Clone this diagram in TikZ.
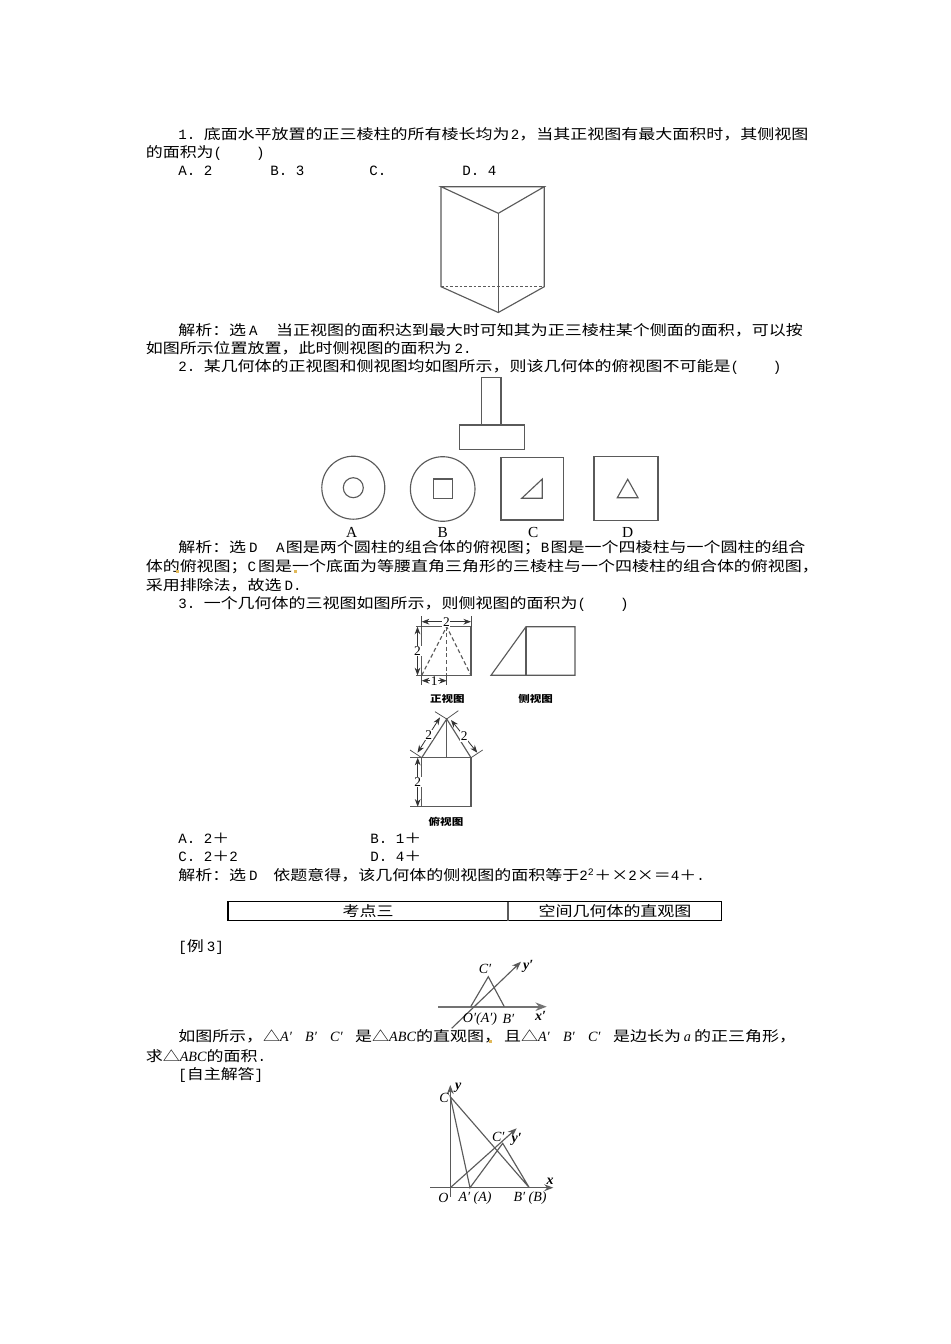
\documentclass[tikz,border=0pt]{standalone}
\usepackage{fontspec}
\usepackage{amsmath}
\setmainfont{Liberation Mono}
\newfontfamily\cjkfont[FakeStretch=1.2]{Noto Sans CJK SC}
\newfontfamily\figfont{Liberation Serif}
\newcommand{\zh}[1]{{\cjkfont #1}}
\newcommand{\ag}{\kern2.25pt}
\newcommand{\primebox}[1]{\makebox[18.75pt][l]{\figfont\itshape #1}}
\usetikzlibrary{arrows.meta, positioning}
\definecolor{edgegray}{RGB}{90, 90, 90}
\definecolor{speckorange}{RGB}{225, 185, 90}
\tikzset{
  txtline/.style={anchor=west, inner sep=0pt, font=\fontsize{10.62}{12}\selectfont},
  midline/.style={anchor=center, inner sep=0pt, font=\fontsize{10.62}{12}\selectfont},
  geoline/.style={draw=edgegray, line width=0.85pt},
  dimline/.style={draw=black!70, line width=0.55pt},
  dimarrow/.style={draw=black!80, line width=0.6pt, Stealth-Stealth},
  dimlabel/.style={fill=white, inner sep=0.6pt, font=\figfont\fontsize{10}{10}\selectfont},
  viewlabel/.style={inner sep=0pt, font=\cjkfont\bfseries\fontsize{7.2}{9}\selectfont},
  choicelabel/.style={inner sep=0pt, font=\figfont\fontsize{11.5}{12}\selectfont},
  axislabel/.style={inner sep=0pt, font=\figfont\itshape\fontsize{10.5}{10}\selectfont},
  axisbold/.style={inner sep=0pt, font=\figfont\bfseries\itshape\fontsize{10.5}{10}\selectfont},
  speck/.style={fill=speckorange}
}
\begin{document}
\begin{tikzpicture}[x=0.75pt, y=-0.75pt]
  \path[use as bounding box, fill=white] (0,0) rectangle (950,1344);

  % Question 1
  \node[txtline] (qonea) at (178, 134.5) {1.\ \zh{底面水平放置的正三棱柱的所有棱长均为}\kern1pt 2\zh{，当其正视图有最大面积时，其侧视图}};
  \node[txtline] (qoneb) at (145.5, 152.5) {\zh{的面积为}(\ \ \ \ )};
  \node[txtline] (opta) at (178, 171) {A.\ 2};
  \node[txtline] (optb) at (270, 171) {B.\ 3};
  \node[txtline] (optc) at (369, 171) {C.};
  \node[txtline] (optd) at (462, 171) {D.\ 4};

  % Prism
  \coordinate (ptl) at (441, 186.7);
  \coordinate (ptr) at (544.3, 186.7);
  \coordinate (ptm) at (498.3, 213.3);
  \coordinate (pbl) at (441, 286.7);
  \coordinate (pbr) at (544.3, 286.7);
  \coordinate (pbm) at (498.3, 312.5);
  \draw[geoline] (ptl) -- (ptr) -- (ptm) -- cycle;
  \draw[geoline] (ptl) -- (pbl) -- (pbm) -- (pbr) -- (ptr);
  \draw[geoline] (ptm) -- (pbm);
  \draw[geoline, dash pattern=on 2pt off 1.5pt, line width=0.5pt] (pbl) -- (pbr);

  \node[txtline] (ansonea) at (178, 330.5) {\zh{解析：选}\ag A\ \ \kern1pt\zh{当正视图的面积达到最大时可知其为正三棱柱某个侧面的面积，可以按}};
  \node[txtline] (ansoneb) at (145.5, 348) {\zh{如图所示位置放置，此时侧视图的面积为}\ag 2.};

  % Question 2
  \node[txtline] (qtwo) at (178, 366.5) {2.\ \zh{某几何体的正视图和侧视图均如图所示，则该几何体的俯视图不可能是}(\ \ \ \ )};
  \draw[geoline] (481.7, 425) -- (481.7, 377.3) -- (501, 377.3) -- (501, 425);
  \draw[geoline] (459.3, 425) rectangle (524.3, 449.3);

  \draw[geoline] (353.3, 487.7) circle [radius=31.5];
  \draw[geoline] (353.3, 487.7) circle [radius=10];
  \draw[geoline] (442.7, 489) circle [radius=32.3];
  \draw[geoline] (433.3, 479) rectangle (452.7, 498.7);
  \draw[geoline] (501, 457.3) rectangle (563.7, 520);
  \draw[geoline] (521.7, 498.3) -- (542.3, 479) -- (542.3, 498.3) -- cycle;
  \draw[geoline] (594, 456.7) rectangle (658, 520.3);
  \draw[geoline] (617.3, 497.7) -- (627.7, 479.3) -- (638, 497.7) -- cycle;

  \node[choicelabel] (lbla) at (351.7, 532) {A};
  \node[choicelabel] (lblb) at (442.7, 532) {B};
  \node[choicelabel] (lblc) at (533.3, 532) {C};
  \node[choicelabel] (lbld) at (627.7, 532) {D};

  \node[txtline] (anstwoa) at (178, 548) {\zh{解析：选}\ag D\ \ \kern1pt A\kern1pt\zh{图是两个圆柱的组合体的俯视图；}B\kern1pt\zh{图是一个四棱柱与一个圆柱的组合}};
  \node[txtline] (anstwob) at (145.5, 566.7) {\zh{体的俯视图；}C\kern1.5pt\zh{图是一个底面为等腰直角三角形的三棱柱与一个四棱柱的组合体的俯视图，}};
  \node[txtline] (anstwoc) at (145.5, 585.5) {\zh{采用排除法，故选}\ag D.};
  \fill[speck] (175.5, 569.5) rectangle (178.5, 572.5);
  \fill[speck] (294, 569.5) rectangle (297, 572.5);

  % Question 3
  \node[txtline] (qthree) at (178, 604) {3.\ \zh{一个几何体的三视图如图所示，则侧视图的面积为}(\ \ \ \ )};

  % Front view
  \coordinate (fa) at (421.7, 626.7);
  \coordinate (fb) at (471, 626.7);
  \coordinate (fc) at (471, 675.3);
  \coordinate (fd) at (421.7, 675.3);
  \coordinate (fe) at (446.7, 626.7);
  \coordinate (ff) at (446.7, 675.3);
  \draw[geoline] (416, 626.7) -- (fb) -- (fc) -- (416, 675.3);
  \draw[geoline] (fa) -- (fd);
  \draw[dimline] (fa) -- (421.7, 616);
  \draw[dimline] (fb) -- (471, 616);
  \draw[dimline] (fd) -- (421.7, 685);
  \draw[dimline] (ff) -- (446.7, 685);
  \draw[geoline, dash pattern=on 3pt off 2pt] (fd) -- (fe) -- (fc);
  \draw[geoline, dash pattern=on 3pt off 2pt] (fe) -- (ff);
  \draw[dimarrow] (421.7, 621.7) -- node[dimlabel] (fdimtop) {2} (471, 621.7);
  \draw[dimarrow] (417.5, 626.7) -- node[dimlabel] (fdimleft) {2} (417.5, 675.3);
  \draw[dimarrow] (421.7, 680.7) -- node[dimlabel] (fdimbot) {1} (446.7, 680.7);
  \node[viewlabel] (frontlbl) at (447.3, 699) {正视图};

  % Side view
  \draw[geoline] (491, 675.3) -- (526, 626.7) -- (575, 626.7) -- (575, 675.3) -- cycle;
  \draw[geoline] (526, 626.7) -- (526, 675.3);
  \node[viewlabel] (sidelbl) at (535.7, 699) {侧视图};

  % Top view
  \coordinate (ta) at (421.7, 757.7);
  \coordinate (tb) at (471, 757.7);
  \coordinate (tc) at (471, 806.7);
  \coordinate (td) at (421.7, 806.7);
  \coordinate (tp) at (446.7, 719);
  \draw[geoline] (410, 757.7) -- (tb) -- (tc) -- (410, 806.7);
  \draw[geoline, line width=1.1pt] (ta) -- (td);
  \draw[geoline] (ta) -- (tp) -- (tb);
  \draw[geoline] (tp) -- (446.7, 757.7);
  \draw[dimline] (ta) -- (410, 750);
  \draw[dimline] (tp) -- (435, 711.7);
  \draw[dimline] (tp) -- (458.3, 710.7);
  \draw[dimline] (tb) -- (482.7, 750);
  \draw[dimarrow] (417.5, 752.7) -- node[dimlabel] (tdimleft) {2} (440, 717.3);
  \draw[dimarrow] (451, 720) -- node[dimlabel] (tdimright) {2} (477.3, 752.7);
  \draw[dimarrow] (417.7, 757.7) -- node[dimlabel] (tdimside) {2} (417.7, 806.7);
  \node[viewlabel] (toplbl) at (446, 821.7) {俯视图};

  \node[txtline] (opta2) at (178, 838) {A.\ 2\zh{＋}};
  \node[txtline] (optb2) at (370, 838) {B.\ 1\zh{＋}};
  \node[txtline] (optc2) at (178, 856.7) {C.\ 2\zh{＋}2};
  \node[txtline] (optd2) at (370, 856.7) {D.\ 4\zh{＋}};
  \node[txtline] (ansthree) at (178, 875.5) {\zh{解析：选}\ag D\ \ \kern-1pt\zh{依题意得，该几何体的侧视图的面积等于}2\textsuperscript{2}\zh{＋×}2\zh{×＝}4\zh{＋}.};

  % Section table
  \draw[line width=0.8pt] (228, 901.7) rectangle (721.5, 920.7);
  \draw[geoline] (508, 901.7) -- (508, 920.7);
  \node[midline] (tblleft) at (368, 911) {\zh{考点三}};
  \node[midline] (tblright) at (615, 911) {\zh{空间几何体的直观图}};

  \node[txtline] (exlbl) at (178, 946.7) {[\zh{例}\ag 3]};

  % Oblique figure
  \coordinate (so) at (470.7, 1006.7);
  \coordinate (sb) at (504.3, 1006.7);
  \coordinate (sc) at (488.3, 976.7);
  \draw[draw=black!55, line width=1.2pt, -Stealth] (438.3, 1006.7) -- (546.7, 1006.7);
  \draw[geoline, -Stealth] (451.7, 1028.3) -- (521, 961.7);
  \draw[geoline] (so) -- (sc) -- (sb);
  \node[axislabel] (slc) at (485, 969.3) {C′};
  \node[axisbold] (sly) at (528.3, 966.7) {y′};
  \node[axisbold] (slx) at (540.7, 1015.7) {x′};
  \node[axislabel] (slo) at (480, 1019) {O′(A′)};
  \node[axislabel] (slb) at (508.3, 1019) {B′};

  \node[txtline] (stema) at (178, 1036.7) {\zh{如图所示，△}\primebox{A′}\primebox{B′}\primebox{C′}\zh{是△}\textit{\figfont ABC}\zh{的直观图，}\ag\zh{且△}\primebox{A′}\primebox{B′}\primebox{C′}\zh{是边长为}\ag\textit{\figfont a}\ag\zh{的正三角形，}};
  \node[txtline] (stemb) at (145.5, 1056) {\zh{求△}\textit{\figfont ABC}\zh{的面积}.};
  \node[txtline] (anslbl) at (178, 1075) {[\zh{自主解答}]};
  \fill[speck] (488.5, 1039.5) rectangle (491.5, 1042.5);

  % Solution figure
  \coordinate (ao) at (450.3, 1187.7);
  \coordinate (aa) at (470, 1187.7);
  \coordinate (ab) at (529.3, 1187.7);
  \coordinate (ac) at (450.3, 1096.7);
  \coordinate (acp) at (502.7, 1143.3);
  \draw[geoline, -Stealth] (450.3, 1196.7) -- (450.3, 1085);
  \draw[geoline, -Stealth] (430, 1187.7) -- (553.3, 1187.7);
  \draw[geoline, -Stealth] (ao) -- (516.7, 1128.3);
  \draw[geoline] (ac) -- (aa) -- (acp) -- (ab) -- cycle;
  \node[axisbold] (aly) at (458.3, 1087.7) {y};
  \node[axislabel] (alc) at (444, 1098.3) {C};
  \node[axislabel] (alcp) at (498.3, 1136.7) {C′};
  \node[axisbold] (alyp) at (516.7, 1139) {y′};
  \node[axisbold] (alx) at (550, 1181) {x};
  \node[axislabel] (alo) at (443.3, 1197.7) {O};
  \node[axislabel] (ala) at (475, 1198.3) {A′ (A)};
  \node[axislabel] (alb) at (530, 1198.3) {B′ (B)};
\end{tikzpicture}
\end{document}
